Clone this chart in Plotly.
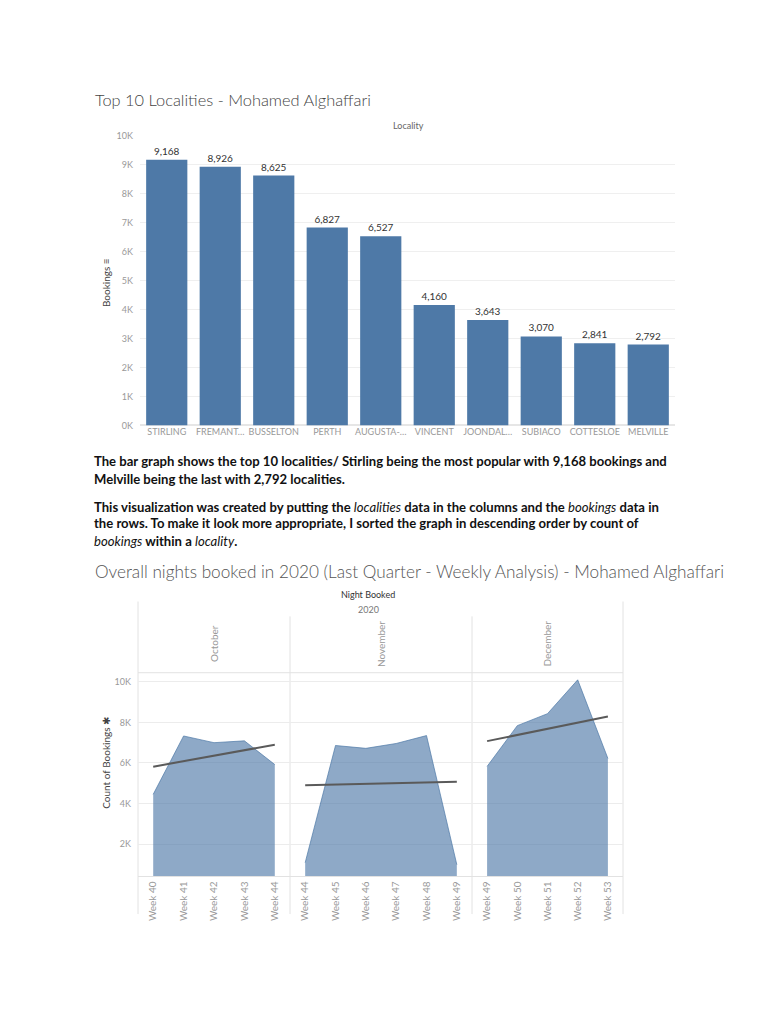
import numpy as np
import plotly.graph_objects as go

# ---------------- data ----------------
localities = ["STIRLING", "FREMANT…", "BUSSELTON", "PERTH", "AUGUSTA-…",
              "VINCENT", "JOONDAL…", "SUBIACO", "COTTESLOE", "MELVILLE"]
bookings = [9168, 8926, 8625, 6827, 6527, 4160, 3643, 3070, 2841, 2792]
bar_ticks = [0, 1000, 2000, 3000, 4000, 5000, 6000, 7000, 8000, 9000, 10000]
bar_ticktext = ["0K", "1K", "2K", "3K", "4K", "5K", "6K", "7K", "8K", "9K", "10K"]

months = ["October", "November", "December"]
oct_weeks = [40, 41, 42, 43, 44]
oct_counts = [4450, 7330, 7000, 7090, 5920]
nov_weeks = [44, 45, 46, 47, 48, 49]
nov_counts = [1080, 6860, 6720, 6960, 7350, 980]
dec_weeks = [49, 50, 51, 52, 53]
dec_counts = [5830, 7840, 8430, 10100, 6220]
line_ticks = [2000, 4000, 6000, 8000, 10000]
line_ticktext = ["2K", "4K", "6K", "8K", "10K"]

paragraphs = [
    "<b>The bar graph shows the top 10 localities/ Stirling being the most popular with 9,168 bookings and</b>",
    "<b>Melville being the last with 2,792 localities.</b>",
    "<b>This visualization was created by putting the </b><i>localities</i><b> data in the columns and the </b><i>bookings</i><b> data in</b>",
    "<b>the rows. To make it look more appropriate, I sorted the graph in descending order by count of</b>",
    "<i>bookings</i><b> within a </b><i>locality</i><b>.</b>",
]

# page has an 8px body margin; figure sized so page is exactly 768x1024
OFF = 8
W, H = 752, 1008
def X(px):
    return (px - OFF) / W
def Y(py):
    return 1 - (py - OFF) / H

BLUE = "#4e79a7"
FONT = "Lato"
DOC_FONT = "Lato"

fig = go.Figure()

# ---------------- bar chart ----------------
fig.add_trace(go.Bar(
    x=localities, y=bookings, marker=dict(color=BLUE, line=dict(width=0)),
    width=0.77, texttemplate="%{y:,}", textposition="outside",
    textfont=dict(family=FONT, size=10, color="#333"), cliponaxis=False,
    xaxis="x", yaxis="y", showlegend=False))

# ---------------- area charts ----------------
panels = [(oct_weeks, oct_counts, "x2"), (nov_weeks, nov_counts, "x3"), (dec_weeks, dec_counts, "x4")]
for wk, ct, xa in panels:
    fig.add_trace(go.Scatter(
        x=wk, y=ct, mode="lines", fill="tozeroy",
        fillcolor="rgba(78,121,167,0.64)", line=dict(color="rgba(78,121,167,0.7)", width=1),
        xaxis=xa, yaxis="y2", showlegend=False))
    slope, icpt = np.polyfit(wk, ct, 1)
    xs = [wk[0], wk[-1]]
    fig.add_trace(go.Scatter(
        x=xs, y=[slope * v + icpt for v in xs], mode="lines",
        line=dict(color="#5a5a5a", width=2), xaxis=xa, yaxis="y2", showlegend=False))

tickfont = dict(family=FONT, size=9, color="#999")

def week_axis(wk, d0, d1):
    return dict(domain=[X(d0), X(d1)], anchor="y2", range=[wk[0] - 0.5, wk[-1] + 0.5],
                tickvals=wk, ticktext=[f"Week {w}" for w in wk], tickangle=-90,
                tickfont=dict(family=FONT, size=10, color="#999"), showgrid=False, zeroline=False,
                showline=True, linecolor="#e2e2e2", linewidth=1, ticks="", fixedrange=True)

fig.update_layout(
    width=W, height=H, margin=dict(l=0, r=0, t=0, b=0),
    paper_bgcolor="white", plot_bgcolor="white",
    xaxis=dict(domain=[X(140), X(675)], anchor="y", tickfont=dict(family=FONT, size=9, color="#999"),
               tickangle=0, showgrid=False, ticks="", showline=False),
    yaxis=dict(domain=[Y(424), Y(131)], anchor="x", range=[0, 10000], tickvals=bar_ticks,
               ticktext=bar_ticktext, tickfont=tickfont, gridcolor="#efefef", zeroline=True,
               zerolinecolor="#e6e6e6", ticks="", ticklabelstandoff=6),
    xaxis2=week_axis(oct_weeks, 138, 290),
    xaxis3=week_axis(nov_weeks, 290, 472),
    xaxis4=week_axis(dec_weeks, 472, 623),
    yaxis2=dict(domain=[Y(880), Y(674)], anchor="x2", range=[400, 10450], tickvals=line_ticks,
                ticktext=line_ticktext, tickfont=tickfont, gridcolor="#ececec", zeroline=False,
                ticks="", ticklabelstandoff=6),
    font=dict(family=FONT),
)

ann = []
# titles
ann.append(dict(x=X(93), y=Y(94), text="Top 10 Localities - Mohamed Alghaffari", xanchor="left",
                yanchor="middle", font=dict(family=FONT, size=16.4, color="#444", weight=300)))
ann.append(dict(x=X(93), y=Y(572), text="Overall nights booked in 2020 (Last Quarter - Weekly Analysis) - Mohamed Alghaffari",
                xanchor="left", yanchor="middle", font=dict(family=FONT, size=17.2, color="#555", weight=300)))
ann.append(dict(x=X(408), y=Y(121), text="Locality", xanchor="center", yanchor="middle",
                font=dict(family=FONT, size=9, color="#666")))
ann.append(dict(x=X(106), y=Y(280), text="Bookings ≡", textangle=-90, xanchor="center", yanchor="middle",
                font=dict(family=FONT, size=10, color="#444")))
ann.append(dict(x=X(106), y=Y(765), text="Count of Bookings ✱", textangle=-90, xanchor="center", yanchor="middle",
                font=dict(family=FONT, size=10, color="#444")))
ann.append(dict(x=X(368), y=Y(595), text="Night Booked", xanchor="center", yanchor="middle",
                font=dict(family=FONT, size=9, color="#333")))
ann.append(dict(x=X(368), y=Y(610), text="2020", xanchor="center", yanchor="middle",
                font=dict(family=FONT, size=9, color="#777")))
for m, (a, b) in zip(months, [(138, 290), (290, 472), (472, 623)]):
    ann.append(dict(x=X((a + b) / 2), y=Y(645), text=m, textangle=-90, xanchor="center", yanchor="middle",
                    font=dict(family=FONT, size=10, color="#999")))
# paragraphs
for txt, py in zip(paragraphs, [460, 478, 506, 523, 541]):
    ann.append(dict(x=X(92), y=Y(py), text=txt, xanchor="left", yanchor="middle",
                    font=dict(family=DOC_FONT, size=13.1, color="#111")))
for a in ann:
    a.update(xref="paper", yref="paper", showarrow=False)
fig.update_layout(annotations=ann)

# panel frame lines
line = dict(color="#e2e2e2", width=1)
shapes = [
    dict(type="line", x0=X(138), x1=X(138), y0=Y(602), y1=Y(918), line=line),
    dict(type="line", x0=X(623), x1=X(623), y0=Y(602), y1=Y(918), line=line),
    dict(type="line", x0=X(290), x1=X(290), y0=Y(617), y1=Y(918), line=line),
    dict(type="line", x0=X(472), x1=X(472), y0=Y(617), y1=Y(918), line=line),
    dict(type="line", x0=X(138), x1=X(623), y0=Y(674), y1=Y(674), line=line),
]
for s in shapes:
    s.update(xref="paper", yref="paper", layer="below")
fig.update_layout(shapes=shapes)

fig.write_html("out.html")
